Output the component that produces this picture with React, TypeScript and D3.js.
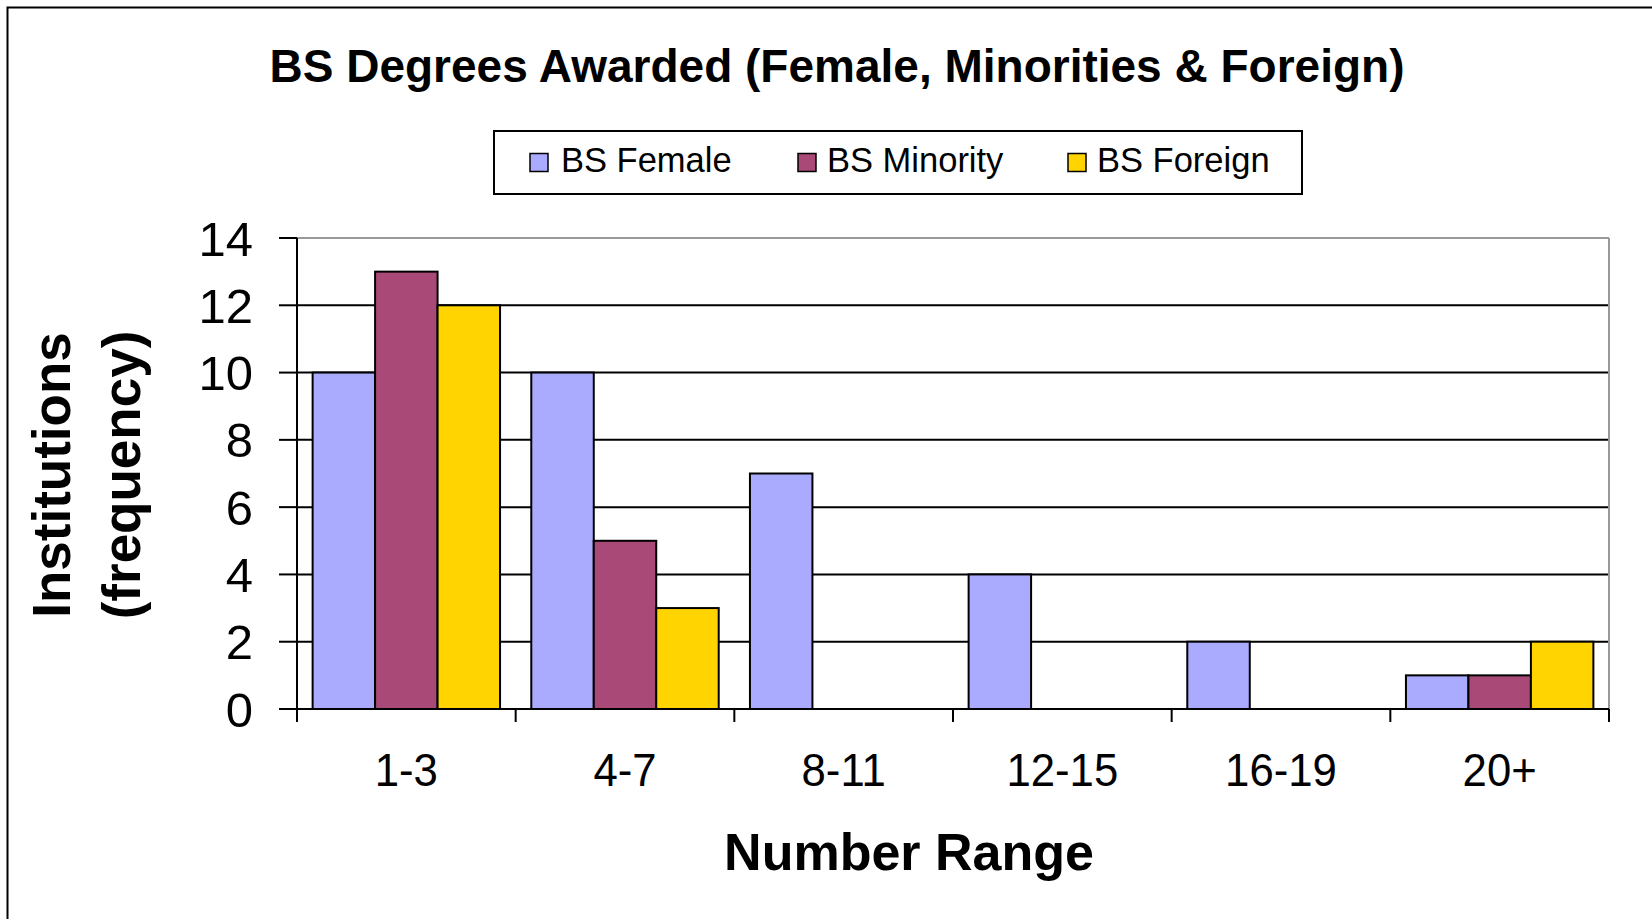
import React from "react";
import * as d3 from "d3";

const categories = ["1-3", "4-7", "8-11", "12-15", "16-19", "20+"];
const seriesNames = ["BS Female", "BS Minority", "BS Foreign"];
const femaleValues = [10, 10, 7, 4, 2, 1];
const minorityValues = [13, 5, 0, 0, 0, 1];
const foreignValues = [12, 3, 0, 0, 0, 2];
const yTicks = [0, 2, 4, 6, 8, 10, 12, 14];
const colors = ["#AAAAFF", "#A94977", "#FFD400"];

const W = 1652;
const H = 919;
const plot = { left: 297, right: 1609, top: 238, bottom: 709 };
const FONT = "'Liberation Sans', Arial, Helvetica, sans-serif";

export default function App() {
  const series = [femaleValues, minorityValues, foreignValues];
  const x0 = d3.scaleBand<string>().domain(categories).range([plot.left, plot.right]).paddingInner(0).paddingOuter(0);
  const groupW = x0.bandwidth();
  const barW = groupW / 3.5;
  const y = d3.scaleLinear().domain([0, 14]).range([plot.bottom, plot.top]);

  const legendItems = [
    { sq: 530, tx: 561 },
    { sq: 798, tx: 827 },
    { sq: 1068, tx: 1097 },
  ];

  return (
    <svg width={W} height={H} style={{ position: "absolute", left: 0, top: 0, background: "#fff" }} fontFamily={FONT}>
      <rect x={0} y={0} width={W} height={H} fill="#fff" />
      <rect x={7.5} y={7.5} width={W + 100} height={H + 100} fill="none" stroke="#000" strokeWidth={2} />

      <text x={837} y={82} textAnchor="middle" fontSize={46} fontWeight="bold" fill="#000">
        BS Degrees Awarded (Female, Minorities &amp; Foreign)
      </text>

      {/* legend */}
      <rect x={494} y={131} width={808} height={63} fill="#fff" stroke="#000" strokeWidth={2} />
      {seriesNames.map((n, i) => (
        <g key={n}>
          <rect x={legendItems[i].sq} y={153.5} width={18} height={18} fill={colors[i]} stroke="#000" strokeWidth={1.5} />
          <text x={legendItems[i].tx} y={172} fontSize={34.5} fill="#000">
            {n}
          </text>
        </g>
      ))}

      {/* gridlines */}
      {yTicks.filter((t) => t > 0 && t < 14).map((t) => (
        <line key={t} x1={plot.left} x2={plot.right} y1={y(t)} y2={y(t)} stroke="#000" strokeWidth={2} />
      ))}
      {/* plot border top/right */}
      <line x1={plot.left} x2={plot.right} y1={y(14)} y2={y(14)} stroke="#999" strokeWidth={2} />
      <line x1={plot.right} x2={plot.right} y1={plot.top} y2={plot.bottom} stroke="#999" strokeWidth={2} />

      {/* bars */}
      {categories.map((c, ci) => (
        <g key={c}>
          {series.map((vals, si) => {
            const v = vals[ci];
            if (v <= 0) return null;
            const bx = (x0(c) as number) + barW * 0.25 + si * barW;
            return (
              <rect key={si} x={bx} y={y(v)} width={barW} height={y(0) - y(v)} fill={colors[si]} stroke="#000" strokeWidth={2} />
            );
          })}
        </g>
      ))}

      {/* axes */}
      <line x1={plot.left} x2={plot.left} y1={plot.top} y2={plot.bottom} stroke="#000" strokeWidth={2} />
      <line x1={plot.left} x2={plot.right} y1={plot.bottom} y2={plot.bottom} stroke="#000" strokeWidth={2} />
      {yTicks.map((t) => (
        <g key={t}>
          <line x1={279} x2={plot.left} y1={y(t)} y2={y(t)} stroke="#000" strokeWidth={2} />
          <text x={253} y={y(t)} dy="0.36em" textAnchor="end" fontSize={49} fill="#000">
            {t}
          </text>
        </g>
      ))}
      {categories.map((c, i) => (
        <line key={"t" + i} x1={x0(c)} x2={x0(c)} y1={plot.bottom} y2={plot.bottom + 13} stroke="#000" strokeWidth={2} />
      ))}
      <line x1={plot.right} x2={plot.right} y1={plot.bottom} y2={plot.bottom + 13} stroke="#000" strokeWidth={2} />
      {categories.map((c) => (
        <g key={"l" + c} transform={`translate(${(x0(c) as number) + groupW / 2},786) scale(0.93,1)`}>
          <text x={0} y={0} textAnchor="middle" fontSize={47} fill="#000">
            {c}
          </text>
        </g>
      ))}

      <text x={909} y={870} textAnchor="middle" fontSize={52} fontWeight="bold" fill="#000">
        Number Range
      </text>

      <g transform="translate(0,475) rotate(-90)">
        <text x={0} y={70} textAnchor="middle" fontSize={53} fontWeight="bold" fill="#000">
          Institutions
        </text>
        <text x={0} y={140} textAnchor="middle" fontSize={53} fontWeight="bold" fill="#000">
          (frequency)
        </text>
      </g>
    </svg>
  );
}
